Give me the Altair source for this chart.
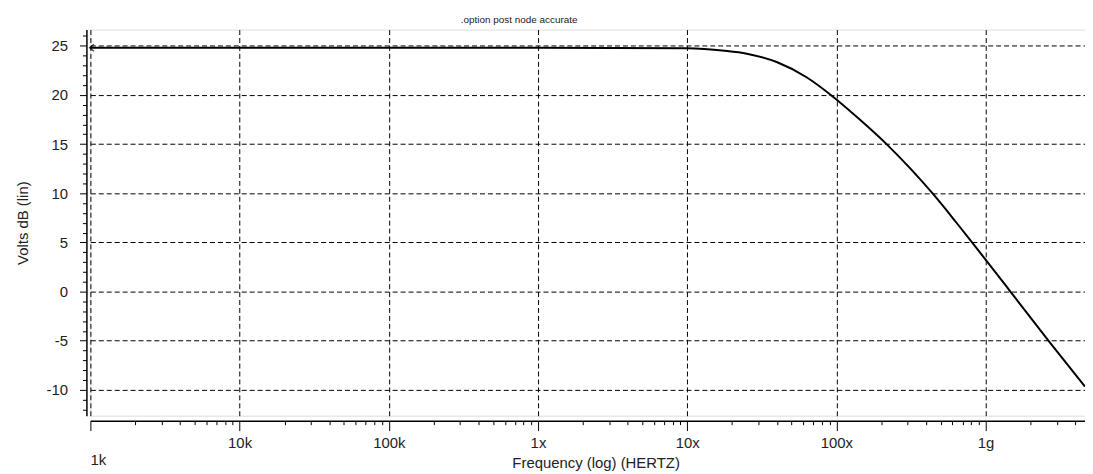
import altair as alt
import pandas as pd

# ---- data ----
freq_hz = [1e3, 1e4, 1e5, 1e6, 1.0e7, 1.78e7, 2.51e7, 3.98e7, 6.31e7, 9.18e7,
           1.41e8, 2.17e8, 3.16e8, 4.46e8, 6.31e8, 8.22e8, 1.0e9, 1.45e9,
           2.67e9, 4.64e9]
volts_db = [24.8, 24.8, 24.8, 24.8, 24.75, 24.5, 24.2, 23.35, 21.8, 20.0,
            17.6, 15.0, 12.45, 9.9, 7.1, 4.9, 3.25, 0.1,
            -5.1, -9.67]

decade_ticks = [1000, 10000, 100000, 1000000, 10000000, 100000000, 1000000000]
decade_labels = ["1k", "10k", "100k", "1x", "10x", "100x", "1g"]
minor_mult = [2, 3, 4, 5, 6, 7, 8, 9]
y_ticks = list(range(-12, 27))

x_max = 4.64e9
y_domain = [-12.63, 26.65]

title_text = ".option post node accurate"
x_title = "Frequency (log) (HERTZ)"
y_title = "Volts dB (lin)"

FONT = "Liberation Sans"

# ---- tables ----
df = pd.DataFrame({"f": freq_hz, "db": volts_db})
start_df = df.iloc[[0]]
lab_df = pd.DataFrame({"f": [decade_ticks[0]], "lab": [decade_labels[0]]})

x_values = [d * m for d in decade_ticks for m in [1] + minor_mult if d * m <= x_max]
major_list = "[" + ",".join(str(v) for v in decade_ticks) + "]"
label_list = "[" + ",".join("'" + (l if i > 0 else "") + "'" for i, l in enumerate(decade_labels)) + "]"
is_major_x = f"indexof({major_list}, datum.value) >= 0"

x_axis = alt.Axis(
    values=x_values,
    labelExpr=f"{is_major_x} ? {label_list}[indexof({major_list}, datum.value)] : ''",
    tickSize={"condition": {"test": is_major_x, "value": 10}, "value": 4},
    gridOpacity={"condition": {"test": is_major_x, "value": 1}, "value": 0},
    grid=True, gridColor="black", gridDash=[5, 3], gridWidth=1,
    domainColor="black", domainWidth=1.5, tickColor="black", tickWidth=1,
    offset=5, labelPadding=5, labelFont=FONT, labelFontSize=15, labelColor="#222",
    labelOverlap=False, labelFlush=False,
    title=x_title, titleFont=FONT, titleFontSize=15, titleFontWeight="normal",
    titleColor="#222", titlePadding=5, titleX=509,
)

is_major_y = "datum.value % 5 == 0"
y_axis = alt.Axis(
    values=y_ticks,
    labelExpr=f"{is_major_y} ? datum.value : ''",
    tickSize={"condition": {"test": is_major_y, "value": 7}, "value": 4},
    gridOpacity={"condition": {"test": is_major_y, "value": 1}, "value": 0},
    grid=True, gridColor="black", gridDash=[5, 3], gridWidth=1,
    domainColor="black", domainWidth=1.5, tickColor="black", tickWidth=1,
    offset=4, labelPadding=12, labelFont=FONT, labelFontSize=15, labelColor="#222",
    labelOverlap=False, labelFlush=False,
    title=y_title, titleFont=FONT, titleFontSize=15, titleFontWeight="normal",
    titleColor="#222", titlePadding=16,
)

x_enc = alt.X("f:Q", scale=alt.Scale(type="log", domain=[1000, x_max], nice=False), axis=x_axis)
y_enc = alt.Y("db:Q", scale=alt.Scale(domain=y_domain, nice=False, zero=False), axis=y_axis)

W, H = 1002, 389

line = alt.Chart(df).mark_line(color="black", strokeWidth=2, interpolate="monotone").encode(
    x=x_enc, y=y_enc)

marker = alt.Chart(start_df).mark_point(
    shape="M 1 -1 L -0.2 0 L 1 1", filled=False, color="black", strokeWidth=1.5, size=50,
).encode(x=x_enc, y=y_enc)

first_label = alt.Chart(lab_df).mark_text(
    align="left", baseline="middle", font=FONT, fontSize=15, color="#222",
).encode(x=x_enc, y=alt.value(H + 45), text="lab:N")

chart = alt.layer(line, marker, first_label).properties(
    width=W, height=H,
    title=alt.TitleParams(title_text, anchor="middle", dx=-69, offset=4, font=FONT,
                          fontSize=10, fontWeight="normal", color="#222"),
    padding={"left": 83, "top": 20, "right": 0, "bottom": 57},
    autosize=alt.AutoSizeParams(type="none"),
).configure_view(stroke="black", strokeWidth=1.6).configure(background="white")

chart.save("out.html", embed_options={"renderer": "svg", "actions": False})
